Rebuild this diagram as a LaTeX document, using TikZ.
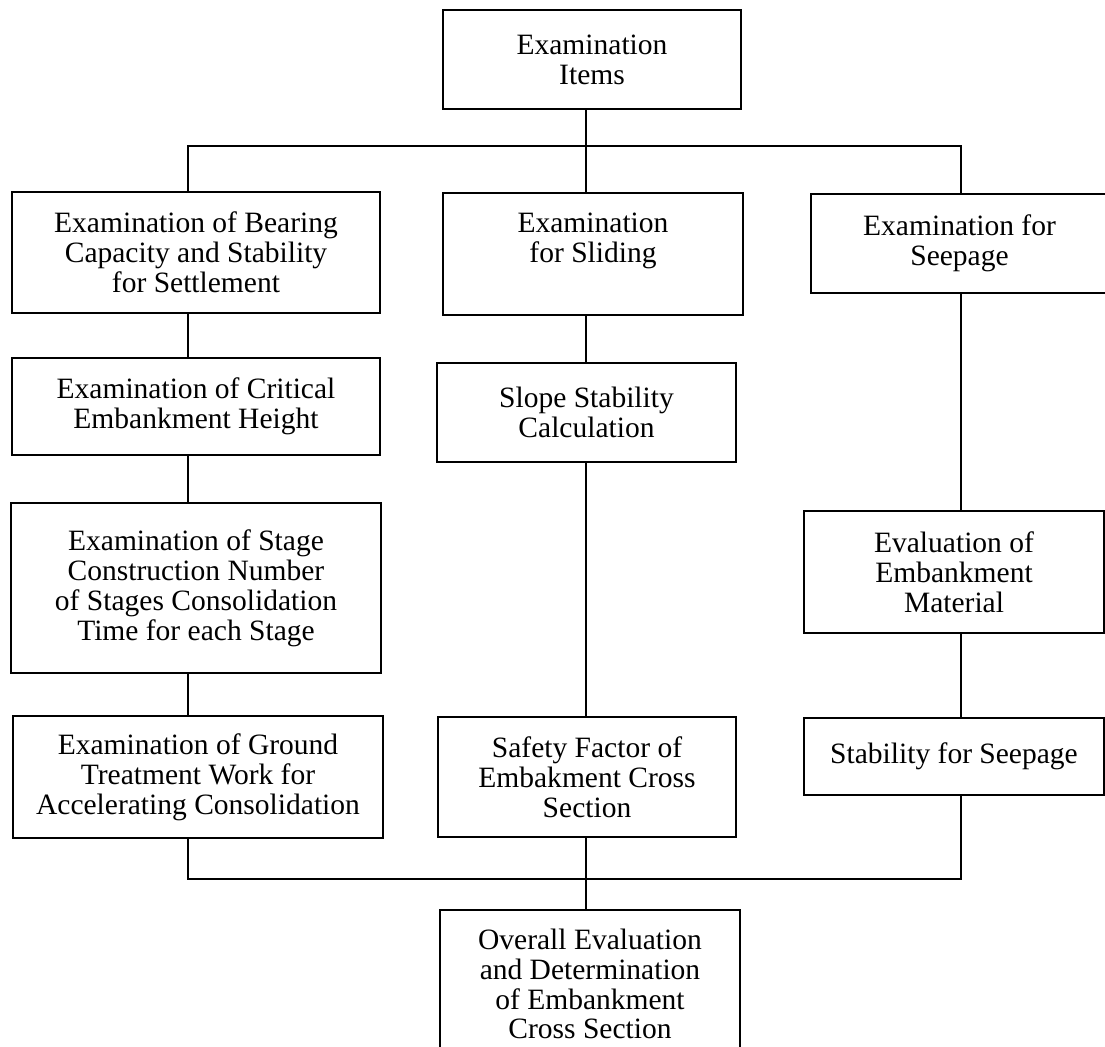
\documentclass[tikz,border=0pt]{standalone}
\usepackage{fontspec}
\setmainfont{Liberation Serif}
\usetikzlibrary{calc}
\tikzset{
    block/.style={draw, line width=1.1pt, align=center, inner sep=2pt, font=\fontsize{16.8}{17}\selectfont},
    link/.style={line width=1.3pt}
}
\begin{document}
\begin{tikzpicture}[x=0.02cm, y=-0.02cm]
        \useasboundingbox (0,0) rectangle (1105,1046);
        \node[block, minimum width=5.96cm, minimum height=1.98cm] (items) at (592,59.5) {Examination\\Items};

        \node[block, minimum width=7.36cm, minimum height=2.42cm] (bearing) at (196,252.5) {Examination of Bearing\\Capacity and Stability\\for Settlement};
        \node[block, minimum width=6cm, minimum height=2.44cm, text depth=0.66cm] (sliding) at (593,254) {Examination\\for Sliding};
        \node[block, minimum width=5.94cm, minimum height=1.98cm] (seepage) at (959.5,243.5) {Examination for\\Seepage};

        \node[block, minimum width=7.36cm, minimum height=1.94cm] (critical) at (196,406.5) {Examination of Critical\\Embankment Height};
        \node[block, minimum width=5.98cm, minimum height=1.98cm] (slope) at (586.5,412.5) {Slope Stability\\Calculation};

        \node[block, minimum width=7.4cm, minimum height=3.4cm] (stage) at (196,588) {Examination of Stage\\Construction Number\\of Stages Consolidation\\Time for each Stage};
        \node[block, minimum width=6cm, minimum height=2.44cm] (material) at (954,572) {Evaluation of\\Embankment\\Material};

        \node[block, minimum width=7.4cm, minimum height=2.44cm] (ground) at (198,777) {Examination of Ground\\Treatment Work for\\Accelerating Consolidation};
        \node[block, minimum width=5.96cm, minimum height=2.4cm] (safety) at (587,777) {Safety Factor of\\Embakment Cross\\Section};
        \node[block, minimum width=6cm, minimum height=1.54cm] (stabseep) at (954,756.5) {Stability for Seepage};

        \node[block, minimum width=6cm, minimum height=2.96cm] (overall) at (590,984) {Overall Evaluation\\and Determination\\of Embankment\\Cross Section};

        \coordinate (colL) at (188,0);
        \coordinate (colM) at (586,0);
        \coordinate (colR) at (961,0);
        \coordinate (topbar) at (0,146);
        \coordinate (botbar) at (0,879);

        \draw[link] (items.south -| colM) -- (sliding.north -| colM);
        \draw[link] (bearing.north -| colL) -- (colL |- topbar) -- (colR |- topbar) -- (seepage.north -| colR);

        \foreach \a/\b in {bearing/critical, critical/stage, stage/ground}
        {
            \draw[link] (\a.south -| colL) -- (\b.north -| colL);
        }
        \foreach \a/\b in {sliding/slope, slope/safety, safety/overall}
        {
            \draw[link] (\a.south -| colM) -- (\b.north -| colM);
        }
        \foreach \a/\b in {seepage/material, material/stabseep}
        {
            \draw[link] (\a.south -| colR) -- (\b.north -| colR);
        }
        \draw[link] (ground.south -| colL) -- (colL |- botbar) -- (colR |- botbar) -- (stabseep.south -| colR);
\end{tikzpicture}
\end{document}
